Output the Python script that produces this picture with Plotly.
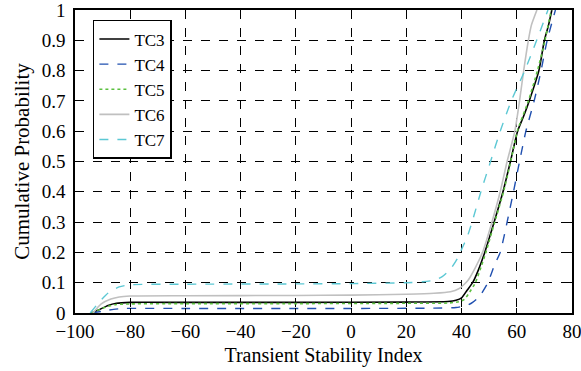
import plotly.graph_objects as go

# ---- data ----
tc3_x = [-94, -91, -88, -85, -80, -60, -20, 20, 35, 38, 40, 42, 44, 46, 48.4, 51.8, 55, 57.7, 60.3, 62.5, 64.5, 68, 70, 71.5, 72.7]
tc3_y = [0, 0.012, 0.025, 0.032, 0.035, 0.035, 0.035, 0.036, 0.038, 0.042, 0.05, 0.075, 0.1, 0.14, 0.2, 0.3, 0.4, 0.5, 0.6, 0.65, 0.7, 0.8, 0.9, 0.95, 1.0]

tc4_x = [-94, -90, -86, -82, -60, 0, 30, 38, 42, 44, 46.5, 49.5, 52, 54, 56.5, 58.8, 61, 63.3, 66.3, 68.8, 71, 74]
tc4_y = [0, 0.006, 0.012, 0.015, 0.015, 0.015, 0.016, 0.018, 0.025, 0.035, 0.055, 0.1, 0.16, 0.2, 0.3, 0.4, 0.5, 0.6, 0.7, 0.8, 0.9, 1.0]

tc5_x = [-94, -91, -88, -85, -80, -60, -20, 20, 35, 39, 41, 43, 45, 47, 48.8, 52, 55.2, 57.8, 60.2, 64.2, 67.5, 70.2, 72.5]
tc5_y = [0, 0.012, 0.022, 0.028, 0.03, 0.031, 0.031, 0.032, 0.033, 0.037, 0.045, 0.07, 0.1, 0.15, 0.2, 0.3, 0.4, 0.5, 0.6, 0.7, 0.8, 0.9, 1.0]

tc6_x = [-93.5, -90.5, -87, -84, -80, -60, -20, 0, 20, 30, 36, 39, 41, 42.5, 45, 47.6, 51, 54, 56.5, 59.3, 61, 62.5, 64.2, 65.3, 67.3]
tc6_y = [0, 0.03, 0.046, 0.053, 0.056, 0.057, 0.058, 0.059, 0.062, 0.065, 0.07, 0.08, 0.095, 0.11, 0.15, 0.2, 0.3, 0.4, 0.5, 0.6, 0.7, 0.8, 0.9, 0.95, 1.0]

tc7_x = [-94.5, -91.5, -88, -84, -80, -60, -20, 0, 20, 26, 30, 33, 36, 38.5, 40, 42, 43.8, 47, 50.5, 54, 58, 62.9, 67.2, 71.3]
tc7_y = [0, 0.033, 0.066, 0.086, 0.093, 0.095, 0.096, 0.097, 0.1, 0.103, 0.108, 0.12, 0.145, 0.18, 0.21, 0.25, 0.3, 0.4, 0.5, 0.6, 0.7, 0.8, 0.9, 1.0]

x_ticks = [-100, -80, -60, -40, -20, 0, 20, 40, 60, 80]
y_ticks = [0, 0.1, 0.2, 0.3, 0.4, 0.5, 0.6, 0.7, 0.8, 0.9, 1]
y_tick_labels = ["0", "0.1", "0.2", "0.3", "0.4", "0.5", "0.6", "0.7", "0.8", "0.9", "1"]

series = [
    ("TC3", tc3_x, tc3_y, "#000000", "solid", 1.6),
    ("TC4", tc4_x, tc4_y, "#2050b0", "dash", 1.4),
    ("TC5", tc5_x, tc5_y, "#5cc040", "dot", 1.6),
    ("TC6", tc6_x, tc6_y, "#c0c0c0", "solid", 1.6),
    ("TC7", tc7_x, tc7_y, "#5cc8d4", "dash", 1.4),
]

fig = go.Figure()
for name, xs, ys, color, dash, w in series:
    fig.add_trace(go.Scatter(x=xs, y=ys, mode="lines", name=name,
                             line=dict(color=color, dash=dash, width=w, shape="spline", smoothing=0.6)))

FAM = "Liberation Serif, Times New Roman, serif"
tick_font = dict(family=FAM, size=19, color="black")

axis_common = dict(
    showline=True, linecolor="black", linewidth=1.5, mirror="ticks",
    ticks="inside", ticklen=5, tickcolor="black", tickwidth=1,
    showgrid=True, gridcolor="black", gridwidth=1, griddash="dash",
    zeroline=False, tickfont=tick_font, automargin=False,
    ticklabeloverflow="allow",
)

fig.update_layout(
    template="none",
    width=581, height=371,
    margin=dict(l=75, r=9, t=10, b=58, autoexpand=False),
    paper_bgcolor="white", plot_bgcolor="white",
    font=dict(family=FAM, size=19, color="black"),
    xaxis=dict(range=[-100, 80], tickvals=x_ticks, tickmode="array",
               title=dict(text="Transient Stability Index",
                          font=dict(family=FAM, size=20, color="black"), standoff=7),
               **axis_common),
    yaxis=dict(range=[0, 1], tickvals=y_ticks, ticktext=y_tick_labels, tickmode="array",
               ticklabelstandoff=4,
               title=dict(text="Cumulative Probability",
                          font=dict(family=FAM, size=21, color="black"), standoff=6),
               **axis_common),
    legend=dict(x=0.036, y=0.967, xanchor="left", yanchor="top",
                bgcolor="white", bordercolor="black", borderwidth=1.5,
                font=dict(family=FAM, size=17, color="black"),
                tracegroupgap=0, itemwidth=30),
    showlegend=True,
)

fig.write_html("out.html", config={"displayModeBar": False},
               post_script="document.body.style.margin='0';document.body.style.overflow='hidden';")
